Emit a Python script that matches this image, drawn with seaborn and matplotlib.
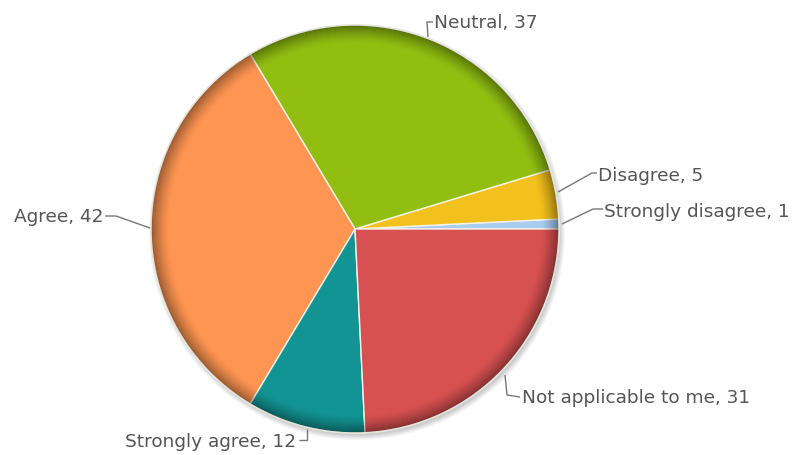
import matplotlib
matplotlib.use("Agg")
import matplotlib.pyplot as plt
import seaborn as sns
import numpy as np
from matplotlib.patches import Wedge, Circle

sns.set_theme(style="white")
plt.rcParams['font.family'] = ['DejaVu Sans']

categories = ["Strongly disagree", "Disagree", "Neutral", "Agree", "Strongly agree", "Not applicable to me"]
values = [1, 5, 37, 42, 12, 31]
colors = ["#a8cdef", "#f3c11d", "#92be12", "#fe9552", "#139494", "#d85152"]

fig = plt.figure(figsize=(7.98, 4.55), dpi=100)
ax = fig.add_axes([0, 0, 1, 1])

W, H = 798, 455
cx, cy, R = 355, H - 229, 204

# soft shadow
for i in range(6):
    ax.add_patch(Circle((cx + 2, cy - 3), R + 4 - i, color="black", alpha=0.035, zorder=0, lw=0))

wedges, _ = ax.pie(values, colors=colors, startangle=0, counterclock=True,
                   center=(cx, cy), radius=R, frame=True,
                   wedgeprops=dict(edgecolor="#f4f4e8", linewidth=1.0))
for w in wedges:
    w.set_zorder(2)

# rim shading (3D look)
n = 18
for i in range(n):
    r_out = R - i
    a = 0.42 * (1 - i / n) ** 1.5
    ax.add_patch(Wedge((cx, cy), r_out, 0, 360, width=1.0, facecolor="black",
                       alpha=a, lw=0, zorder=3))
ax.add_patch(Circle((cx, cy), R, fill=False, edgecolor="#e4e4da", lw=1.0, zorder=4))

tc = "#555555"
lc = "#777777"
fs = 13.3

def lbl(text, pts, tx, ty, ha):
    xs = [p[0] for p in pts]
    ys = [H - p[1] for p in pts]
    ax.plot(xs, ys, color=lc, lw=1.0, zorder=5, solid_capstyle="butt")
    ax.text(tx, H - ty, text, ha=ha, va="center", color=tc, fontsize=fs, zorder=6)

lbl(f"{categories[2]}, {values[2]}", [(428, 37), (427, 22), (433, 22)], 434, 23, "left")
lbl(f"{categories[1]}, {values[1]}", [(558, 192), (592, 173), (597, 173)], 598, 176, "left")
lbl(f"{categories[0]}, {values[0]}", [(562, 224), (593, 209), (603, 209)], 604, 212, "left")
lbl(f"{categories[3]}, {values[3]}", [(150, 228), (116, 216), (105, 216)], 104, 217, "right")
lbl(f"{categories[4]}, {values[4]}", [(307, 429), (307, 440), (299, 440)], 296, 442, "right")
lbl(f"{categories[5]}, {values[5]}", [(505, 375), (507, 395), (520, 397)], 522, 398, "left")

ax.set_xlim(0, W)
ax.set_ylim(0, H)
ax.set_aspect("equal")
ax.axis("off")
fig.savefig("out.png", dpi=100, facecolor="white")
